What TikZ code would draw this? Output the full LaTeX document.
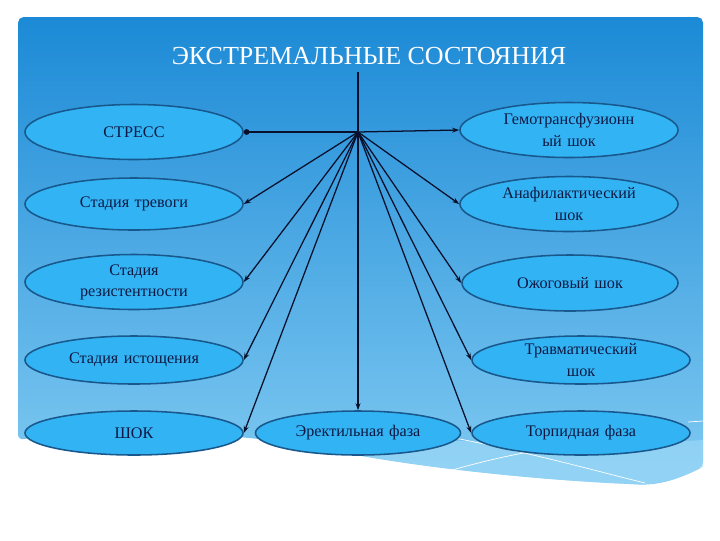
\documentclass[tikz,border=0pt]{standalone}
\usepackage{fontspec}
\setmainfont{Liberation Serif}
\usepackage{tikz}
\usetikzlibrary{shapes.geometric, arrows.meta, positioning}
\definecolor{panelTop}{RGB}{28, 138, 214}
\definecolor{panelBottom}{RGB}{128, 202, 242}
\definecolor{waveLight}{RGB}{160, 218, 248}
\definecolor{ovalFill}{RGB}{50, 180, 244}
\definecolor{ovalEdge}{RGB}{24, 88, 140}
\definecolor{inkNavy}{RGB}{14, 24, 66}
\definecolor{wireDark}{RGB}{8, 16, 44}

\tikzset{
    oval/.style={ellipse, draw=ovalEdge, line width=1.1pt, fill=ovalFill, inner sep=0pt,
        text=inkNavy, align=center, text width=3.5cm,
        font=\fontsize{11.5}{15}\selectfont},
    wire/.style={wireDark, line width=0.9pt, -{Stealth[length=5pt, width=3.5pt]}},
}

\begin{document}
\begin{tikzpicture}[x=0.025cm, y=-0.025cm]
    \useasboundingbox (0,0) rectangle (720,540);

    % Panel
    \shade[top color=panelTop, bottom color=panelBottom, rounded corners=4pt]
        (18,17) -- (703,17) -- (703,467)
        .. controls (680,478) and (660,486) .. (630,484)
        .. controls (540,480) and (420,468) .. (330,450)
        .. controls (220,428) and (80,430) .. (18,440) -- cycle;
    \fill[waveLight, opacity=0.6]
        (330,440) .. controls (450,438) and (580,448) .. (703,440) -- (703,467)
        .. controls (680,478) and (660,486) .. (630,484)
        .. controls (540,480) and (420,468) .. (330,450) -- cycle;
    \draw[white, line width=0.5pt] (455,438) .. controls (540,455) and (600,472) .. (645,483);
    \draw[white, line width=0.5pt] (445,472) .. controls (480,462) and (510,455) .. (530,452);
    \draw[white, line width=0.5pt] (688,422) -- (703,421);

    % Title
    \node[text=white, font=\fontsize{18.5}{22}\selectfont] (title) at (369,56) {ЭКСТРЕМАЛЬНЫЕ СОСТОЯНИЯ};

    % Ellipses
    \node[oval, minimum width=5.45cm, minimum height=1.375cm] (stress) at (134,132) {СТРЕСС};
    \node[oval, minimum width=5.45cm, minimum height=1.3cm] (alarm) at (134,204) {Стадия тревоги};
    \node[oval, minimum width=5.45cm, minimum height=1.375cm] (resist) at (134,282) {Стадия\\резистентности};
    \node[oval, minimum width=5.45cm, minimum height=1.2cm] (exhaust) at (134,360) {Стадия истощения};
    \node[oval, minimum width=5.45cm, minimum height=1.1cm] (shock) at (134,433) {ШОК};

    \node[oval, minimum width=5.45cm, minimum height=1.375cm] (hemo) at (569,130) {Гемотрансфузионн\\ый шок};
    \node[oval, minimum width=5.45cm, minimum height=1.375cm] (anaph) at (569,204) {Анафилактический\\шок};
    \node[oval, minimum width=5.4cm, minimum height=1.4cm] (burn) at (570,283) {Ожоговый шок};
    \node[oval, minimum width=5.45cm, minimum height=1.2cm] (trauma) at (581,360) {Травматический\\шок};
    \node[oval, minimum width=5.45cm, minimum height=1.1cm] (torpid) at (581,433) {Торпидная фаза};
    \node[oval, minimum width=5.125cm, minimum height=1.1cm] (erectile) at (358,433) {Эректильная фаза};

    % Arrows
    \coordinate (top) at (358,72);
    \coordinate (hub) at (358,132);
    \draw[wire] (top) -- (erectile.north);
    \draw[wireDark, line width=0.9pt, -{Circle[length=4pt]}] (hub) -- (stress.east);
    \draw[wire] (hub) -- (hemo.west);
    \foreach \target in {alarm, resist, exhaust, shock}
        \draw[wire] (hub) -- (\target.east);
    \foreach \target in {anaph, burn, trauma, torpid}
        \draw[wire] (hub) -- (\target.west);
\end{tikzpicture}
\end{document}
